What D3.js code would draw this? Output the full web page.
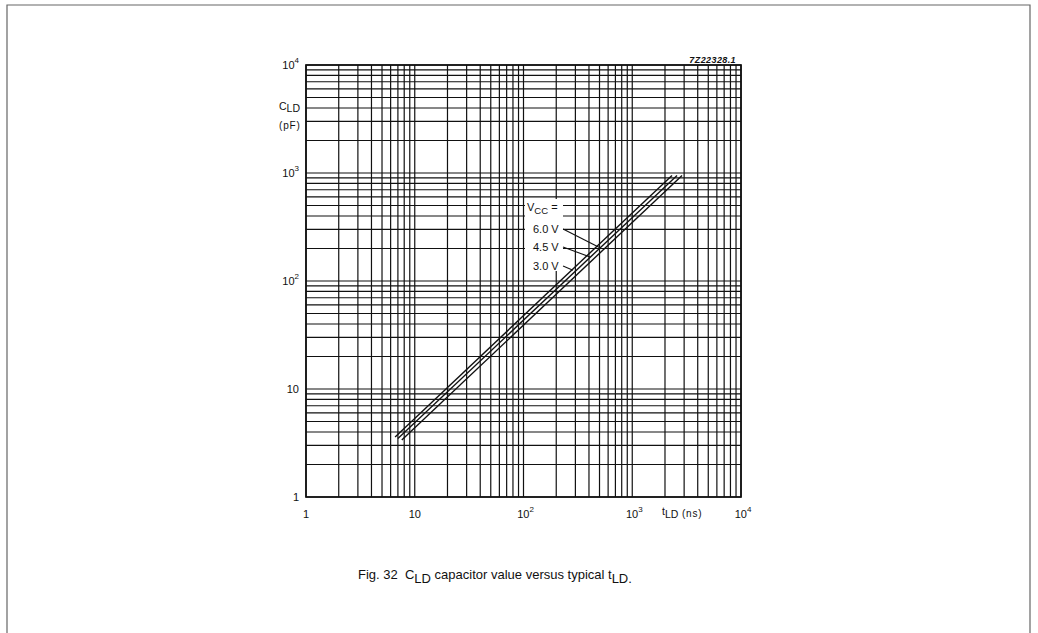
<!DOCTYPE html>
<html><head><meta charset="utf-8">
<script src="https://cdn.jsdelivr.net/npm/d3@7"></script>
<style>
html,body{margin:0;padding:0;background:#fff;}
svg{display:block;}
text{font-family:"Liberation Sans",Arial,Helvetica,sans-serif;fill:#111;}
</style></head>
<body>
<script>
// ---- data ----
const xTickValues = [1, 10, 100, 1000, 10000];
const xTickLabels = [["1",""],["10",""],["10","2"],["10","3"],["10","4"]];
const yTickValues = [1, 10, 100, 1000, 10000];
const yTickLabels = [["1",""],["10",""],["10","2"],["10","3"],["10","4"]];
const seriesNames = ["3.0 V", "4.5 V", "6.0 V"];
const tStart = [6.6, 7.0, 7.6];      // ns
const cStart = [3.6, 3.48, 3.37];    // pF
const tEnd   = [2320, 2580, 2870];   // ns
const cEnd   = [950, 950, 950];      // pF
// leader lines: label anchor (t, C) -> point on curve (t, C)
const leaderFromT = [231, 231, 231];
const leaderFromC = [138, 206, 303];
const leaderToT   = [285, 409, 510];
const leaderToC   = [126, 167, 202];

const W = 1038, H = 633;
const svg = d3.select("body").append("svg").attr("width", W).attr("height", H);

// page frame
svg.append("path").attr("d", "M7,633 V5 H1030 V633")
  .attr("fill","none").attr("stroke","#666").attr("stroke-width",1.2);

const x = d3.scaleLog().domain([1, 1e4]).range([306, 741]);
const y = d3.scaleLog().domain([1, 1e4]).range([497, 65]);

// grid values 1..9 per decade
const gridVals = [];
for (let d = 0; d < 4; d++) for (let k = 1; k <= 9; k++) gridVals.push(k * Math.pow(10, d));
gridVals.push(1e4);

const g = svg.append("g");
g.selectAll(".vg").data(gridVals).enter().append("line")
  .attr("x1", d => x(d)).attr("x2", d => x(d))
  .attr("y1", y(1)).attr("y2", y(1e4))
  .attr("stroke", "#111").attr("stroke-width", 1.2);
g.selectAll(".hg").data(gridVals).enter().append("line")
  .attr("y1", d => y(d)).attr("y2", d => y(d))
  .attr("x1", x(1)).attr("x2", x(1e4))
  .attr("stroke", "#111").attr("stroke-width", 1.2);
g.append("rect").attr("x", x(1)).attr("y", y(1e4))
  .attr("width", x(1e4) - x(1)).attr("height", y(1) - y(1e4))
  .attr("fill","none").attr("stroke","#111").attr("stroke-width",1.7);

// white box behind Vcc labels
svg.append("rect").attr("x", 525).attr("y", 199).attr("width", 38).attr("height", 72).attr("fill","#fff");

// curves
seriesNames.forEach((n, i) => {
  svg.append("line")
    .attr("x1", x(tStart[i])).attr("y1", y(cStart[i]))
    .attr("x2", x(tEnd[i])).attr("y2", y(cEnd[i]))
    .attr("stroke","#111").attr("stroke-width",1.4);
  svg.append("line")
    .attr("x1", x(leaderFromT[i])).attr("y1", y(leaderFromC[i]))
    .attr("x2", x(leaderToT[i])).attr("y2", y(leaderToC[i]))
    .attr("stroke","#111").attr("stroke-width",1.1);
  svg.append("text").attr("x", 533).attr("y", y(leaderFromC[i]) + 4)
    .attr("font-size", 11).text(n);
});
const vcc = svg.append("text").attr("x", 527).attr("y", 211).attr("font-size", 11);
vcc.append("tspan").text("V");
vcc.append("tspan").attr("dy", 2.5).attr("font-size", 9.5).text("CC");
vcc.append("tspan").attr("dy", -2.5).text(" =");

// y tick labels
yTickValues.forEach((v, i) => {
  const t = svg.append("text").attr("x", 299).attr("y", y(v) + 3.5).attr("text-anchor","end").attr("font-size", 11);
  t.append("tspan").text(yTickLabels[i][0]);
  if (yTickLabels[i][1]) t.append("tspan").attr("dy", -6).attr("font-size", 8).text(yTickLabels[i][1]);
});
// x tick labels
xTickValues.forEach((v, i) => {
  const t = svg.append("text").attr("x", x(v) + (xTickLabels[i][1] ? 2 : 0)).attr("y", 518).attr("text-anchor","middle").attr("font-size", 11);
  t.append("tspan").text(xTickLabels[i][0]);
  if (xTickLabels[i][1]) t.append("tspan").attr("dy", -6).attr("font-size", 8).text(xTickLabels[i][1]);
});

// axis titles
const yt = svg.append("text").attr("x", 279).attr("y", 110).attr("font-size", 10.5);
yt.append("tspan").text("C");
yt.append("tspan").attr("dy", 2).text("LD");
svg.append("text").attr("x", 279).attr("y", 129).attr("font-size", 10).attr("letter-spacing", 0.8).text("(pF)");

const xt = svg.append("text").attr("x", 662).attr("y", 515).attr("font-size", 10.5);
xt.append("tspan").text("t");
xt.append("tspan").attr("dy", 3).text("LD");
xt.append("tspan").attr("dy", -1).attr("font-size", 10).attr("letter-spacing", 0.8).text(" (ns)");

// drawing code
svg.append("text").attr("x", 736).attr("y", 62.5).attr("text-anchor","end")
  .attr("font-size", 9).attr("font-style","italic").attr("font-weight","bold").attr("letter-spacing", 0.4).text("7Z22328.1");

// caption
const cap = svg.append("text").attr("x", 358).attr("y", 579).attr("font-size", 13);
cap.append("tspan").text("Fig. 32\u00a0\u00a0C");
cap.append("tspan").attr("dy", 4).text("LD");
cap.append("tspan").attr("dy", -4).text(" capacitor value versus typical t");
cap.append("tspan").attr("dy", 4).text("LD");
cap.append("tspan").text(".");
</script>
</body></html>
